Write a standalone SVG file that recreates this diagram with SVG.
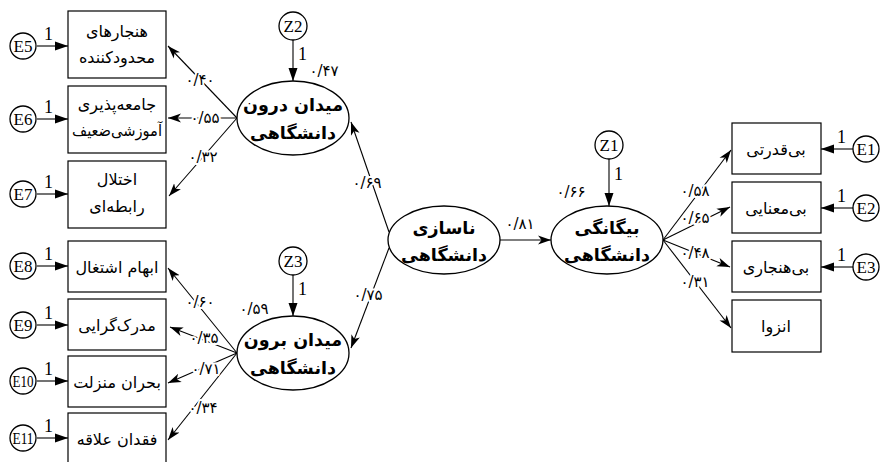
<svg xmlns="http://www.w3.org/2000/svg" width="881" height="462" viewBox="0 0 881 462">
<style>
.bx{fill:#fff;stroke:#000;stroke-width:1.2}
.el{fill:#fff;stroke:#000;stroke-width:1.3}
.ln{fill:none;stroke:#000;stroke-width:1.1}
.fa{font-family:"DejaVu Sans","Noto Sans",sans-serif;font-size:16px;text-anchor:middle;fill:#000}
.fb{font-family:"DejaVu Sans","Noto Sans",sans-serif;font-size:17.5px;font-weight:bold;text-anchor:middle;fill:#000}
.lb{font-family:"DejaVu Sans","Noto Sans",sans-serif;font-size:15px;text-anchor:middle;fill:#000;stroke:#fff;stroke-width:4;paint-order:stroke;stroke-linejoin:round}
.ser{font-family:"Liberation Serif","Times New Roman",serif;font-size:17px;text-anchor:middle;fill:#000}
.one{font-family:"Liberation Serif","Times New Roman",serif;font-size:18px;fill:#000}
</style>
<defs>
<marker id="tri" markerUnits="userSpaceOnUse" markerWidth="14" markerHeight="10" refX="13" refY="5" orient="auto">
<path d="M0,0.5 L13,5 L0,9.5 z" fill="#000"/>
</marker>
<marker id="barb" markerUnits="userSpaceOnUse" markerWidth="14" markerHeight="10" refX="13" refY="5" orient="auto">
<path d="M0,0.5 L13,5 L0,9.5 L3.5,5 z" fill="#000"/>
</marker>
</defs>
<rect width="881" height="462" fill="#fff"/>

<g id="connectors">
<line class="ln" x1="37" y1="46" x2="68" y2="46" marker-end="url(#tri)"/>
<line class="ln" x1="37" y1="119" x2="68" y2="119" marker-end="url(#tri)"/>
<line class="ln" x1="37" y1="194" x2="68" y2="194" marker-end="url(#tri)"/>
<line class="ln" x1="37" y1="266" x2="68" y2="266" marker-end="url(#tri)"/>
<line class="ln" x1="37" y1="325" x2="68" y2="325" marker-end="url(#tri)"/>
<line class="ln" x1="37" y1="381" x2="68" y2="381" marker-end="url(#tri)"/>
<line class="ln" x1="37" y1="438" x2="68" y2="438" marker-end="url(#tri)"/>
<line class="ln" x1="853" y1="149" x2="821" y2="149" marker-end="url(#tri)"/>
<line class="ln" x1="853" y1="208" x2="821" y2="208" marker-end="url(#tri)"/>
<line class="ln" x1="853" y1="267" x2="821" y2="267" marker-end="url(#tri)"/>
<line class="ln" x1="293" y1="40" x2="293" y2="81" marker-end="url(#tri)"/>
<line class="ln" x1="293" y1="275" x2="293" y2="316" marker-end="url(#tri)"/>
<line class="ln" x1="609" y1="159" x2="609" y2="206" marker-end="url(#tri)"/>
<line class="ln" x1="237" y1="118" x2="168" y2="46" marker-end="url(#barb)"/>
<line class="ln" x1="237" y1="118" x2="168" y2="118" marker-end="url(#barb)"/>
<line class="ln" x1="237" y1="118" x2="169" y2="196" marker-end="url(#barb)"/>
<line class="ln" x1="237" y1="353" x2="168" y2="268" marker-end="url(#barb)"/>
<line class="ln" x1="237" y1="353" x2="170" y2="327" marker-end="url(#barb)"/>
<line class="ln" x1="237" y1="353" x2="168" y2="383" marker-end="url(#barb)"/>
<line class="ln" x1="237" y1="353" x2="168" y2="440" marker-end="url(#barb)"/>
<line class="ln" x1="389" y1="232" x2="351" y2="122" marker-end="url(#barb)"/>
<line class="ln" x1="389" y1="248" x2="351" y2="348" marker-end="url(#barb)"/>
<line class="ln" x1="500" y1="240" x2="551" y2="240" marker-end="url(#barb)"/>
<line class="ln" x1="663" y1="240" x2="731" y2="150" marker-end="url(#barb)"/>
<line class="ln" x1="663" y1="240" x2="730" y2="207" marker-end="url(#barb)"/>
<line class="ln" x1="663" y1="240" x2="730" y2="267" marker-end="url(#barb)"/>
<line class="ln" x1="663" y1="240" x2="731" y2="328" marker-end="url(#barb)"/>
<text class="one" x="44" y="40">1</text>
<text class="one" x="44" y="113">1</text>
<text class="one" x="44" y="188">1</text>
<text class="one" x="44" y="260">1</text>
<text class="one" x="44" y="319">1</text>
<text class="one" x="44" y="375">1</text>
<text class="one" x="44" y="432">1</text>
<text class="one" x="837" y="143">1</text>
<text class="one" x="837" y="202">1</text>
<text class="one" x="837" y="261">1</text>
<text class="one" x="298" y="60">1</text>
<text class="one" x="298" y="295">1</text>
<text class="one" x="614" y="180">1</text>
<text class="lb" x="200" y="85">۰/۴۰</text>
<text class="lb" x="205" y="123">۰/۵۵</text>
<text class="lb" x="203" y="162">۰/۳۲</text>
<text class="lb" x="200" y="307">۰/۶۰</text>
<text class="lb" x="204" y="343">۰/۳۵</text>
<text class="lb" x="206" y="374">۰/۷۱</text>
<text class="lb" x="203" y="413">۰/۳۴</text>
<text class="lb" x="324" y="76">۰/۴۷</text>
<text class="lb" x="254" y="314">۰/۵۹</text>
<text class="lb" x="571" y="197">۰/۶۶</text>
<text class="lb" x="520" y="229">۰/۸۱</text>
<text class="lb" x="367" y="188">۰/۶۹</text>
<text class="lb" x="368" y="300">۰/۷۵</text>
<text class="lb" x="695" y="196">۰/۵۸</text>
<text class="lb" x="695" y="223">۰/۶۵</text>
<text class="lb" x="695" y="258">۰/۴۸</text>
<text class="lb" x="695" y="287">۰/۳۱</text>
</g>

<g id="E5"><circle class="el" cx="23" cy="46" r="13"/><text class="ser" x="23" y="52">E5</text></g>
<g id="E6"><circle class="el" cx="23" cy="119" r="13"/><text class="ser" x="23" y="125">E6</text></g>
<g id="E7"><circle class="el" cx="23" cy="194" r="13"/><text class="ser" x="23" y="200">E7</text></g>
<g id="E8"><circle class="el" cx="23" cy="266" r="13"/><text class="ser" x="23" y="272">E8</text></g>
<g id="E9"><circle class="el" cx="23" cy="325" r="13"/><text class="ser" x="23" y="331">E9</text></g>
<g id="E10"><circle class="el" cx="23" cy="381" r="13"/><text class="ser" x="23" y="387" textLength="21" lengthAdjust="spacingAndGlyphs">E10</text></g>
<g id="E11"><circle class="el" cx="23" cy="438" r="13"/><text class="ser" x="23" y="444" textLength="21" lengthAdjust="spacingAndGlyphs">E11</text></g>
<g id="E1"><circle class="el" cx="866" cy="149" r="13"/><text class="ser" x="866" y="155">E1</text></g>
<g id="E2"><circle class="el" cx="866" cy="208" r="13"/><text class="ser" x="866" y="214">E2</text></g>
<g id="E3"><circle class="el" cx="866" cy="267" r="13"/><text class="ser" x="866" y="273">E3</text></g>
<g id="Z2"><circle class="el" cx="293" cy="26" r="14"/><text class="ser" x="293" y="32">Z2</text></g>
<g id="Z3"><circle class="el" cx="293" cy="261" r="14"/><text class="ser" x="293" y="267">Z3</text></g>
<g id="Z1"><circle class="el" cx="609" cy="145" r="14"/><text class="ser" x="609" y="151">Z1</text></g>

<g id="box1"><rect class="bx" x="68" y="11" width="98" height="67"/><text class="fa" x="117" y="37">هنجارهای</text><text class="fa" x="117" y="63">محدودکننده</text></g>
<g id="box2"><rect class="bx" x="68" y="86" width="98" height="67"/><text class="fa" x="117" y="110">جامعه‌پذیری</text><text class="fa" x="117" y="136" textLength="90" lengthAdjust="spacingAndGlyphs">آموزشی‌ضعیف</text></g>
<g id="box3"><rect class="bx" x="68" y="161" width="98" height="67"/><text class="fa" x="117" y="185">اختلال</text><text class="fa" x="117" y="212">رابطه‌ای</text></g>
<g id="box8"><rect class="bx" x="68" y="241" width="98" height="51"/><text class="fa" x="117" y="273">ابهام اشتغال</text></g>
<g id="box9"><rect class="bx" x="68" y="299" width="98" height="51"/><text class="fa" x="117" y="331">مدرک‌گرایی</text></g>
<g id="box10"><rect class="bx" x="68" y="356" width="98" height="51"/><text class="fa" x="117" y="388">بحران منزلت</text></g>
<g id="box11"><rect class="bx" x="68" y="413" width="98" height="52"/><text class="fa" x="117" y="445">فقدان علاقه</text></g>
<g id="box_r1"><rect class="bx" x="732" y="123" width="89" height="51"/><text class="fa" x="776" y="155">بی‌قدرتی</text></g>
<g id="box_r2"><rect class="bx" x="732" y="182" width="89" height="51"/><text class="fa" x="776" y="214">بی‌معنایی</text></g>
<g id="box_r3"><rect class="bx" x="732" y="241" width="89" height="51"/><text class="fa" x="776" y="273">بی‌هنجاری</text></g>
<g id="box_r4"><rect class="bx" x="732" y="300" width="89" height="52"/><text class="fa" x="776" y="332">انزوا</text></g>

<g id="lat_in"><ellipse class="el" cx="293" cy="118" rx="56" ry="37"/><text class="fb" x="293" y="111">میدان درون</text><text class="fb" x="293" y="139">دانشگاهی</text></g>
<g id="lat_out"><ellipse class="el" cx="293" cy="353" rx="56" ry="37"/><text class="fb" x="293" y="346">میدان برون</text><text class="fb" x="293" y="374">دانشگاهی</text></g>
<g id="lat_mis"><ellipse class="el" cx="444" cy="240" rx="56" ry="34"/><text class="fb" x="444" y="234">ناسازی</text><text class="fb" x="444" y="261">دانشگاهی</text></g>
<g id="lat_alien"><ellipse class="el" cx="607" cy="240" rx="56" ry="34"/><text class="fb" x="607" y="234">بیگانگی</text><text class="fb" x="607" y="261">دانشگاهی</text></g>
</svg>
